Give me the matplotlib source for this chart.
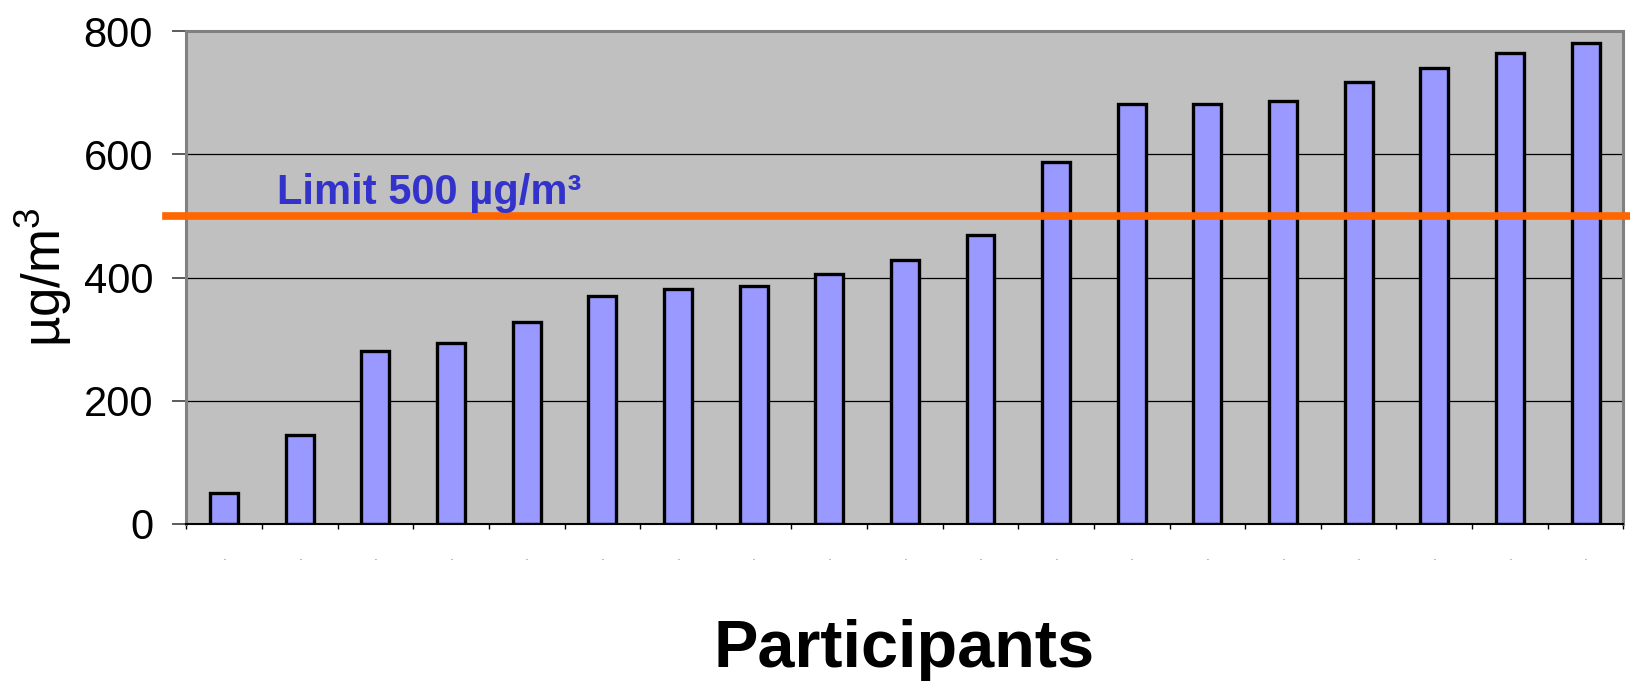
import numpy as np
import matplotlib
matplotlib.use("Agg")
import matplotlib.pyplot as plt

plt.rcParams['font.family'] = ['Liberation Sans', 'DejaVu Sans']
plt.rcParams['mathtext.fontset'] = 'custom'
plt.rcParams['mathtext.rm'] = 'Liberation Sans'
plt.rcParams['mathtext.it'] = 'Liberation Sans'

# concentration per participant (ug/m3), sorted
valores = [51, 145, 281, 293, 328, 370, 381, 387, 405, 428, 469,
           587, 681, 681, 687, 717, 740, 764, 781]
limite = 500
yticks = [0, 200, 400, 600, 800]

n = len(valores)
x = np.arange(n)

fig = plt.figure(figsize=(16.31, 6.82), dpi=100)
ax = fig.add_axes([0.1143, 0.2317, 0.8810, 0.7228])
ax.set_facecolor('#C0C0C0')

# grid lines behind the bars
for v in yticks[1:-1]:
    ax.axhline(v, color='black', lw=0.9, zorder=1)

ax.bar(x, valores, width=0.37, color='#9999FF', edgecolor='black',
       linewidth=2.4, zorder=2)

# limit line, runs a bit past the plot area on both sides
ax.axhline(limite, xmin=-0.014, xmax=1.01, color='#FF6600', lw=5.5,
           clip_on=False, zorder=3)
ax.text(0.063, 519, 'Limit 500 µg/m³', transform=ax.get_yaxis_transform(),
        color='#3333CC', fontsize=30, fontweight='bold', va='baseline',
        ha='left', zorder=4)

ax.set_xlim(-0.5, n - 0.5)
ax.set_ylim(0, 800)
ax.set_yticks(yticks)
ax.set_yticklabels([str(v) for v in yticks], fontsize=30)
ax.tick_params(axis='y', length=10, width=1.2, color='#404040', pad=14)

# category separators as major ticks, tiny dots as labels in the middle
ax.set_xticks(np.arange(n + 1) - 0.5)
ax.set_xticklabels([''] * (n + 1))
ax.tick_params(axis='x', which='major', length=3.5, width=1.0, color='black')
ax.set_xticks(x, minor=True)
ax.set_xticklabels(['.'] * n, minor=True, fontsize=5)
ax.tick_params(axis='x', which='minor', length=0, pad=22)

for s in ['top', 'right', 'left']:
    ax.spines[s].set_color('#808080')
    ax.spines[s].set_linewidth(2.2)
ax.spines['bottom'].set_color('black')
ax.spines['bottom'].set_linewidth(1.5)

ax.set_ylabel('µg/m$^3$', fontsize=38)
ax.yaxis.set_label_coords(-0.078, 0.5)
fig.text(904 / 1631, 1 - 667 / 682, 'Participants', fontsize=48,
         fontweight='bold', ha='center', va='baseline')

fig.savefig('out.png', dpi=100)
